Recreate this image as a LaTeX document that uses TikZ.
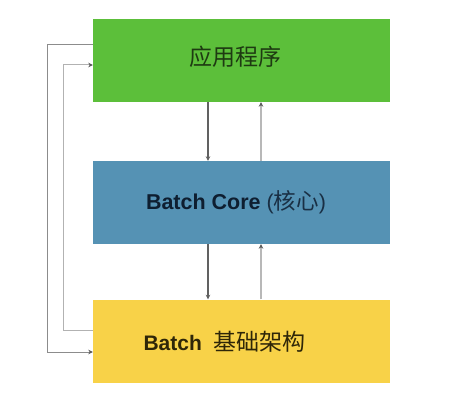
\documentclass[tikz,border=0pt]{standalone}
\usepackage{fontspec}
\setmainfont{Liberation Sans}
\newfontfamily\cjk{Noto Sans CJK SC}
\usetikzlibrary{arrows.meta}
\definecolor{gbox}{HTML}{5CBF3A}
\definecolor{bbox}{HTML}{5592B4}
\definecolor{ybox}{HTML}{F8D248}
\definecolor{gtxt}{HTML}{1E3A12}
\definecolor{btxt}{HTML}{0E1E30}
\definecolor{ytxt}{HTML}{2E2608}
\tikzset{
  layer/.style={rectangle, draw=none, minimum width=297pt, minimum height=83pt, inner sep=0pt},
  darkarr/.style={draw=black!62, line width=1.2pt, -{Stealth[length=4.5pt,width=4.5pt]}},
  lightarr/.style={draw=black!28, line width=1.1pt, -{Stealth[length=4.5pt,width=4.5pt,color=black!65]}},
  sidearr/.style={draw=black!45, line width=1pt, -{Stealth[length=4.5pt,width=4.5pt,color=black!65]}},
  sidearrl/.style={draw=black!30, line width=1pt, -{Stealth[length=4.5pt,width=4.5pt,color=black!65]}},
  lbl/.style={inner sep=0pt, anchor=center}
}
\begin{document}
\begin{tikzpicture}[x=1pt,y=1pt]
\useasboundingbox (0,0) rectangle (470,412);
\fill[white] (0,0) rectangle (470,412);
% boxes
\node[layer, fill=gbox] (app) at (241.5,351.5) {};
\node[layer, fill=bbox] (core) at (241.5,209.5) {};
\node[layer, fill=ybox] (infra) at (241.5,71) {};
% texts
\node[lbl, text=gtxt] (apptxt) at (235,355) {\fontsize{23}{27}\selectfont\cjk 应用程序};
\node[lbl, text=btxt] (coretxt) at (236,210) {\fontsize{21.5}{25}\selectfont\bfseries Batch Core \mdseries\color{btxt!85!bbox}(\cjk\fontsize{22.5}{26}\selectfont 核心\rmfamily\fontsize{21.5}{25}\selectfont)};
\node[lbl, text=ytxt] (infratxt) at (224.5,70) {\fontsize{21}{25}\selectfont\bfseries Batch\hspace{0.55em}\mdseries\cjk\fontsize{23}{27}\selectfont 基础架构};
% vertical coordinates
\coordinate (xd) at (208,0);
\coordinate (xu) at (261,0);
% arrows between layers
\draw[darkarr] (app.south -| xd) -- (core.north -| xd);
\draw[lightarr] (core.north -| xu) -- (app.south -| xu);
\draw[darkarr] (core.south -| xd) -- (infra.north -| xd);
\draw[lightarr] (infra.north -| xu) -- (core.south -| xu);
% side connectors
\coordinate (o1) at (47,367);
\coordinate (o2) at (47,60);
\coordinate (i1) at (63,82);
\coordinate (i2) at (63,347);
\draw[sidearr] (app.west |- o1) -- (o1) -- (o2) -- (infra.west |- o2);
\draw[sidearrl] (infra.west |- i1) -- (i1) -- (i2) -- (app.west |- i2);
\end{tikzpicture}
\end{document}
